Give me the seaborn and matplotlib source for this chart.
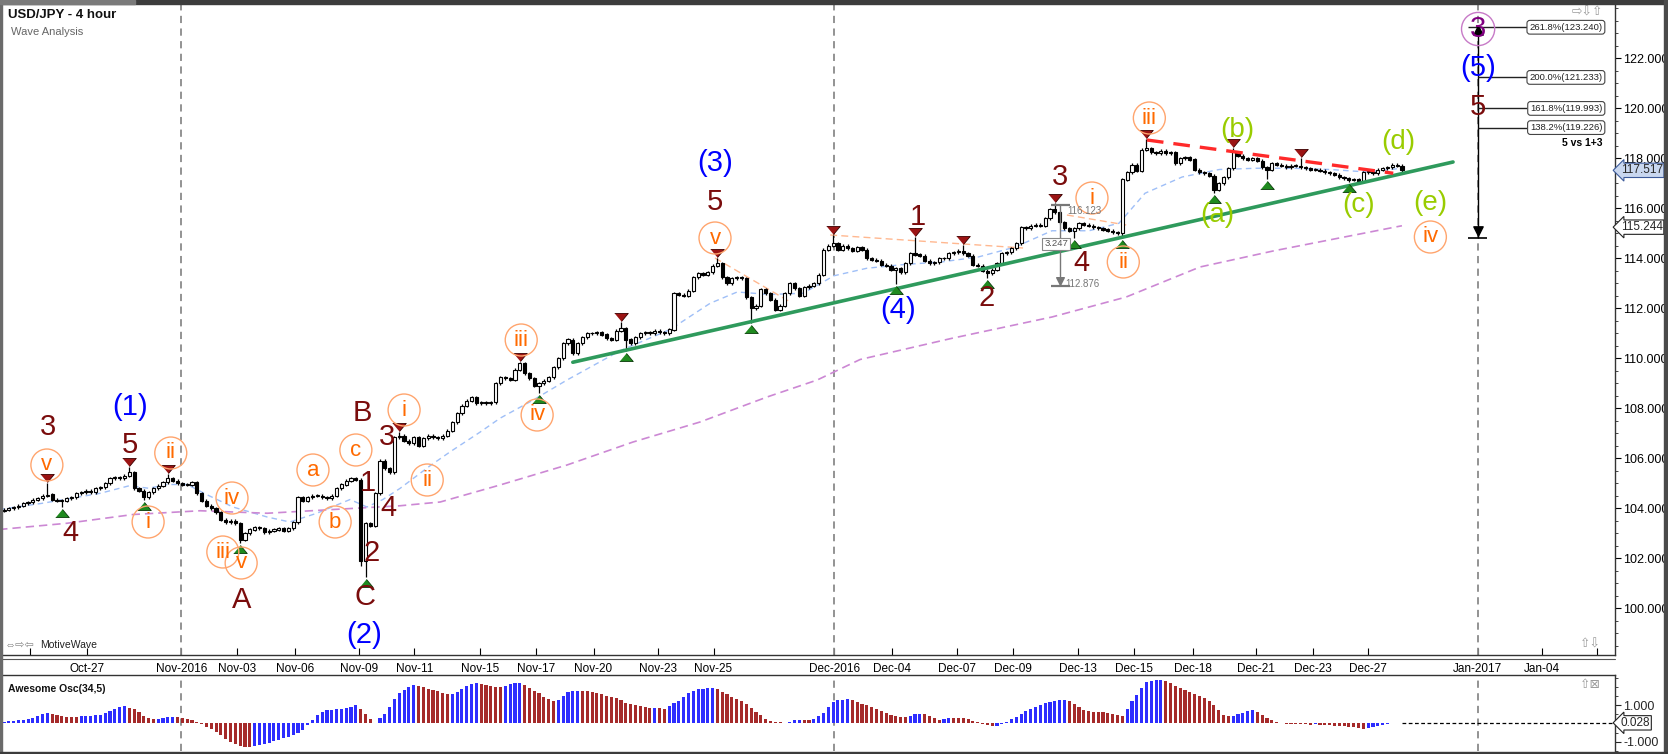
import matplotlib
matplotlib.use("Agg")
import matplotlib.pyplot as plt
import matplotlib.transforms as mtransforms
from matplotlib.patches import Rectangle
from matplotlib.ticker import FormatStrFormatter
import numpy as np
import pandas as pd
import seaborn as sns

# ---- data (4 hour bars, index 0 = first bar on screen) ----
first_open = 103.9
close = [
    103.95, 104.0, 104.05, 104.1, 104.2, 104.25, 104.35, 104.4, 104.5, 104.55,
    104.35, 104.3, 104.3, 104.4, 104.45, 104.6, 104.65, 104.7, 104.65, 104.8,
    104.85, 105.0, 105.2, 105.25, 105.2, 105.3, 105.45, 104.8, 104.7, 104.45,
    104.65, 104.8, 104.9, 105.05, 105.2, 105.1, 105.0, 104.95, 104.95, 105.05,
    104.6, 104.3, 104.1, 104.0, 103.85, 103.55, 103.45, 103.5, 103.4, 102.75,
    103.0, 103.15, 103.25, 103.2, 103.05, 103.1, 103.15, 103.2, 103.1, 103.2,
    103.45, 104.45, 104.3, 104.45, 104.5, 104.5, 104.45, 104.4, 104.5, 104.8,
    104.95, 105.1, 105.2, 105.15, 101.9, 103.4, 103.3, 104.6, 105.9, 105.6,
    105.45, 106.85, 106.9, 106.7, 106.6, 106.85, 106.5, 106.8, 106.9, 106.85,
    106.8, 106.9, 107.1, 107.45, 107.8, 108.1, 108.3, 108.45, 108.2, 108.25,
    108.2, 108.25, 109.0, 109.25, 109.2, 109.15, 109.55, 109.8, 109.4, 109.2,
    108.9, 109.0, 109.1, 109.25, 109.65, 110.0, 110.6, 110.75, 110.2, 110.6,
    110.85, 111.0, 111.0, 111.05, 110.95, 110.8, 110.75, 111.1, 111.2, 110.75,
    110.6, 110.85, 111.0, 111.05, 111.0, 111.1, 111.05, 111.0, 111.15, 112.6,
    112.55, 112.5, 112.7, 113.25, 113.4, 113.35, 113.45, 113.7, 113.8, 113.25,
    113.0, 113.2, 113.25, 113.2, 112.45, 112.0, 112.1, 112.75, 112.6, 112.35,
    111.95, 112.1, 112.6, 113.0, 112.8, 112.5, 112.85, 112.9, 113.0, 113.35,
    114.35, 114.5, 114.6, 114.35, 114.5, 114.4, 114.3, 114.45, 114.35, 114.0,
    113.95, 113.9, 113.75, 113.7, 113.55, 113.6, 113.45, 113.8, 114.2, 114.15,
    114.1, 113.9, 113.8, 113.85, 114.0, 114.0, 114.2, 114.25, 114.3, 114.2,
    114.1, 113.75, 113.7, 113.5, 113.4, 113.55, 113.8, 114.2, 114.25, 114.4,
    114.6, 115.25, 115.2, 115.3, 115.35, 115.3, 115.6, 115.95, 115.85, 115.45,
    115.2, 115.1, 115.2, 115.4, 115.35, 115.3, 115.25, 115.2, 115.15, 115.1,
    115.05, 115.0, 117.15, 117.45, 117.75, 117.5, 118.35, 118.4, 118.25, 118.2,
    118.3, 118.2, 118.25, 117.8, 118.0, 118.05, 117.95, 117.55, 117.45, 117.4,
    117.3, 116.75, 117.0, 117.25, 117.6, 118.25, 118.1, 118.0, 117.95, 118.0,
    117.9, 117.65, 117.55, 117.8, 117.75, 117.7, 117.65, 117.7, 117.7, 117.65,
    117.6, 117.55, 117.55, 117.5, 117.45, 117.4, 117.35, 117.25, 117.2, 117.15,
    117.15, 117.1, 117.45, 117.45, 117.4, 117.55, 117.6, 117.65, 117.75, 117.7, 117.52,
]

# swing highs / lows (bar -> wick extreme), marked with triangles
pivot_high = {9: 105.0, 26: 105.65, 34: 105.37, 82: 107.05, 107: 109.85, 128: 111.45,
              148: 114.0, 172: 114.93, 189: 114.85, 199: 114.53, 218: 116.21,
              237: 118.77, 255: 118.41, 269: 118.01}
pivot_low = {12: 104.05, 29: 104.33, 49: 102.61, 75: 101.25, 111: 108.61, 129: 110.29,
             155: 111.41, 185: 112.97, 204: 113.21, 222: 114.81, 232: 114.81,
             251: 116.61, 262: 117.17, 279: 117.05}
extra_low = {74: 101.7}

# moving averages (sampled along the curves)
ma_fast_bar = [-1, 8, 20, 26, 30, 34, 38, 42, 47.5, 54.6, 59.3, 64.9, 71.8, 75.3, 78.6,
               82.2, 88.4, 92.5, 98.8, 102.9, 109.8, 116.8, 127.8, 138.2, 146.5, 152.1,
               158.9, 165.8, 172.2, 179.0, 186.7, 194.4, 202.1, 209.8, 217.4, 225.1,
               231.3, 236.7, 244.4, 252.1, 259.8, 267.4, 275.1, 282.8, 290]
ma_fast = [103.95, 104.2, 104.6, 104.9, 104.8, 104.95, 104.95, 104.55, 104.05, 103.65,
           103.45, 103.8, 104.35, 104.05, 104.35, 104.8, 105.7, 106.25, 107.05, 107.6,
           108.33, 109.13, 110.3, 111.15, 112.2, 112.65, 112.55, 112.6, 113.3, 113.6,
           113.75, 113.85, 114.05, 114.45, 115.1, 115.1, 115.4, 116.6, 117.25, 117.55,
           117.6, 117.6, 117.55, 117.45, 117.6]
ma_slow_bar = [-1, 13.1, 26.8, 40.7, 54.6, 68.3, 82.2, 90.5, 102.9, 116.8, 130.5, 144.4,
               158.3, 168.7, 177.6, 196.7, 217.4, 232.8, 248.1, 263.5, 290]
ma_slow = [103.15, 103.4, 103.75, 103.9, 103.8, 103.95, 104.1, 104.25, 104.93, 105.73,
           106.65, 107.45, 108.45, 109.13, 109.95, 110.8, 111.65, 112.45, 113.65, 114.3, 115.3]

# Awesome Oscillator (34,5)
ao = [
    0.09, 0.12, 0.15, 0.18, 0.2, 0.24, 0.27, 0.4, 0.5, 0.55,
    0.51, 0.45, 0.40, 0.36, 0.33, 0.33, 0.38, 0.40, 0.42, 0.45,
    0.48, 0.55, 0.65, 0.78, 0.87, 0.93, 0.86, 0.76, 0.6, 0.42,
    0.3, 0.22, 0.23, 0.27, 0.33, 0.36, 0.32, 0.27, 0.22, 0.18,
    0.07, -0.02, -0.18, -0.33, -0.47, -0.66, -0.85, -1.02, -1.15, -1.22,
    -1.27, -1.28, -1.25, -1.2, -1.13, -1.05, -0.97, -0.89, -0.82, -0.77,
    -0.65, -0.55, -0.36, -0.08, 0.2, 0.45, 0.6, 0.73, 0.75, 0.76,
    0.78, 0.82, 0.91, 1.02, 0.8, 0.5, 0.22, 0.04, 0.3, 0.5,
    0.87, 1.33, 1.64, 1.82, 1.96, 2.09, 2.05, 1.98, 1.89, 1.8,
    1.74, 1.67, 1.6, 1.62, 1.71, 1.85, 2.03, 2.13, 2.18, 2.15,
    2.1, 2.06, 2.0, 1.96, 2.04, 2.13, 2.18, 2.22, 2.07, 1.92,
    1.75, 1.63, 1.45, 1.31, 1.22, 1.3, 1.52, 1.71, 1.78, 1.79,
    1.77, 1.74, 1.69, 1.63, 1.58, 1.51, 1.44, 1.36, 1.27, 1.12,
    1.05, 0.99, 0.93, 0.87, 0.82, 0.84, 0.82, 0.8, 0.95, 1.12,
    1.2, 1.45, 1.67, 1.78, 1.85, 1.89, 1.92, 1.95, 1.87, 1.73,
    1.6, 1.45, 1.33, 1.2, 1.05, 0.85, 0.6, 0.45, 0.22, 0.13,
    0.08, 0.05, 0.03, 0.1, 0.16, 0.2, 0.19, 0.17, 0.25, 0.4,
    0.55, 0.87, 1.15, 1.25, 1.27, 1.31, 1.25, 1.15, 1.06, 0.98,
    0.9, 0.76, 0.68, 0.55, 0.45, 0.4, 0.37, 0.35, 0.42, 0.49,
    0.51, 0.5, 0.42, 0.3, 0.2, 0.25, 0.31, 0.3, 0.29, 0.27,
    0.22, 0.15, 0.05, -0.05, -0.11, -0.15, -0.12, -0.06, 0.06, 0.22,
    0.35, 0.5, 0.65, 0.8, 0.9, 1.0, 1.13, 1.18, 1.24, 1.27,
    1.29, 1.2, 1.05, 0.88, 0.75, 0.67, 0.64, 0.62, 0.6, 0.55,
    0.51, 0.46, 0.38, 0.8, 1.2, 1.55, 1.95, 2.25, 2.33, 2.36,
    2.37, 2.33, 2.2, 2.06, 1.95, 1.82, 1.7, 1.6, 1.5, 1.36,
    1.2, 1.0, 0.75, 0.45, 0.4, 0.42, 0.5, 0.58, 0.68, 0.73,
    0.64, 0.45, 0.3, 0.17, 0.08, 0.02, -0.02, -0.04, -0.05, -0.05,
    -0.06, -0.07, -0.06, -0.08, -0.09, -0.11, -0.13, -0.15, -0.17, -0.19,
    -0.22, -0.26, -0.29, -0.27, -0.22, -0.16, -0.1, -0.04, 0.0, 0.02, 0.028,
]

# date axis (bar positions of the labels)
tick_bars = [5.5, 17.2, 36.8, 48.4, 60.3, 73.7, 85.1, 98.7, 110.3, 122.3, 135.7, 147.2,
             172.2, 184.3, 197.6, 209.3, 222.8, 234.5, 246.6, 259.7, 271.5, 283.0,
             305.7, 319.0, 330.5]
tick_labels = ["", "Oct-27", "Nov-2016", "Nov-03", "Nov-06", "Nov-09", "Nov-11", "Nov-15",
               "Nov-17", "Nov-20", "Nov-23", "Nov-25", "Dec-2016", "Dec-04", "Dec-07",
               "Dec-09", "Dec-13", "Dec-15", "Dec-18", "Dec-21", "Dec-23", "Dec-27",
               "Jan-2017", "Jan-04", ""]
month_lines = ["Nov-2016", "Dec-2016", "Jan-2017"]

# trend lines
support = ([118.0, 300.6], [109.84, 117.85])
resistance = ([237.1, 288.2], [118.73, 117.4])
light_lines = [([147.5, 163.1], [114.01, 112.25]),
               ([171.4, 211.4], [114.93, 114.41]),
               ([220.5, 232.8], [115.73, 115.33])]

# fibonacci projection
fib_bar = 305.8
fib_pct = ["261.8%", "200.0%", "161.8%", "138.2%"]
fib_lvl = [123.240, 121.233, 119.993, 119.226]
fib_low = 114.81
measure = (219.1, 116.123, 112.876, "3.247")

# wave labels (text, bar, price)
maroon_labels = [("3", 9.1, 107.25), ("4", 13.7, 103.01), ("5", 26.1, 106.53),
                 ("A", 49.2, 100.33), ("B", 74.3, 107.81), ("1", 75.5, 105.01),
                 ("2", 76.3, 102.21), ("C", 74.9, 100.45), ("3", 79.5, 106.85),
                 ("4", 79.7, 104.01), ("5", 147.5, 116.25), ("1", 189.6, 115.65),
                 ("2", 203.9, 112.41), ("3", 219.1, 117.25), ("4", 223.5, 113.8),
                 ("5", 305.8, 120.05)]
blue_labels = [("(1)", 26.1, 108.05), ("(2)", 74.7, 98.93), ("(3)", 147.5, 117.81),
               ("(4)", 185.5, 111.93), ("(5)", 305.8, 121.61)]
orange_labels = [("v", 8.9, 105.73), ("ii", 34.6, 106.21), ("i", 29.9, 103.45),
                 ("iv", 47.3, 104.41), ("iii", 45.4, 102.25), ("v", 49.2, 101.81),
                 ("a", 64.1, 105.53), ("b", 68.7, 103.45), ("c", 73.0, 106.33),
                 ("i", 83.0, 107.93), ("ii", 87.8, 105.13), ("iii", 107.3, 110.73),
                 ("iv", 110.6, 107.73), ("v", 147.5, 114.81), ("i", 225.7, 116.41),
                 ("ii", 232.2, 113.85), ("iii", 237.6, 119.61), ("iv", 295.9, 114.85)]
green_labels = [("(a)", 251.7, 115.73), ("(b)", 255.8, 119.13), ("(c)", 280.9, 116.13),
                ("(d)", 289.2, 118.65), ("(e)", 295.9, 116.21)]
purple_label = ("3", 305.8, 123.17)

last_price = 117.517
ma_tag = 115.244
ao_last = 0.028

# ---- style ----
sns.set_theme(style="white")
plt.rcParams["font.family"] = ["Liberation Sans", "DejaVu Sans"]

MAROON = "#7a0c0c"
ORANGE = "#ff6a00"
LIME = "#99cc00"
W, H = 1668, 754

fig = plt.figure(figsize=(W / 100, H / 100), dpi=100)
fig.patch.set_facecolor("white")


def fx(px):
    return px / W


def fy(py):
    return 1 - py / H


ax = fig.add_axes([fx(2), fy(655), fx(1615) - fx(2), (655 - 3) / H])
ax_ao = fig.add_axes([fx(2), fy(751), fx(1615) - fx(2), (751 - 675) / H])
xlim = (-0.41, 334.2)

# ---- candles ----
bars = np.arange(len(close))
closes = np.array(close)
opens = np.array([first_open] + close[:-1])
hi = np.maximum(opens, closes) + 0.06
lo = np.minimum(opens, closes) - 0.06
for b, v in pivot_high.items():
    hi[b] = v
for b, v in pivot_low.items():
    lo[b] = v
for b, v in extra_low.items():
    lo[b] = v
up = closes >= opens
body = np.maximum(np.abs(closes - opens), 0.03)
ax.vlines(bars, lo, hi, color="black", lw=0.9, zorder=3)
ax.bar(bars[up], body[up], bottom=opens[up], width=0.66, color="white",
       edgecolor="black", linewidth=0.8, zorder=4)
ax.bar(bars[~up], body[~up], bottom=closes[~up], width=0.66, color="black",
       edgecolor="black", linewidth=0.8, zorder=4)

# moving averages
sns.lineplot(x=ma_fast_bar, y=ma_fast, ax=ax, color="#9fbff7", lw=1.0,
             linestyle=(0, (4, 3)), zorder=2)
sns.lineplot(x=ma_slow_bar, y=ma_slow, ax=ax, color="#cc88d4", lw=1.2,
             linestyle=(0, (5, 3)), zorder=2)

# trend lines
sns.lineplot(x=support[0], y=support[1], ax=ax, color="#2e9a5c", lw=2.6, zorder=5)
sns.lineplot(x=resistance[0], y=resistance[1], ax=ax, color="#ff2a2a", lw=2.4,
             linestyle=(0, (5, 3)), zorder=5)
for xs, ys in light_lines:
    ax.plot(xs, ys, color="#ffb890", lw=1.0, linestyle=(0, (5, 3)), zorder=2)

# pivot triangles
tri_down = [(-1, 0.6), (1, 0.6), (0, -0.6)]
tri_up = [(-1, -0.6), (1, -0.6), (0, 0.6)]
hb = list(pivot_high.keys())
lb = list(pivot_low.keys())
ax.scatter(hb, hi[hb] + 0.22, marker=tri_down, s=95, color="#9b1414",
           edgecolors="#3a0000", linewidths=0.6, zorder=6)
ax.scatter(lb, lo[lb] - 0.22, marker=tri_up, s=95, color="#1f8a1f",
           edgecolors="#0a3a0a", linewidths=0.6, zorder=6)

# wave labels
for t, b, p in maroon_labels:
    ax.text(b, p, t, color=MAROON, fontsize=21, ha="center", va="center", zorder=7)
for t, b, p in blue_labels:
    ax.text(b, p, t, color="#0000ff", fontsize=21, ha="center", va="center", zorder=7)
for t, b, p in green_labels:
    ax.text(b, p, t, color=LIME, fontsize=20, ha="center", va="center", zorder=7)
ob = [o[1] for o in orange_labels]
op = [o[2] for o in orange_labels]
ax.scatter(ob, op, s=530, facecolors="none", edgecolors="#ffa56e", linewidths=1.0, zorder=6)
for t, b, p in orange_labels:
    ax.text(b, p, t, color=ORANGE, fontsize=16, ha="center", va="center", zorder=7)

# month separators
for lab in month_lines:
    xb = tick_bars[tick_labels.index(lab)]
    for a in (ax, ax_ao):
        a.axvline(xb, color="#8a8a8a", lw=1.3, linestyle=(0, (4, 3)), zorder=1)

# fibonacci tool
ax.vlines(fib_bar, fib_low, fib_lvl[0], color="black", lw=1.0, zorder=5)
ax.hlines(fib_low, fib_bar - 2.1, fib_bar + 1.9, color="black", lw=1.2, zorder=5)
ax.scatter([fib_bar], [fib_lvl[0] - 0.12], marker="^", s=45, color="black", zorder=6)
ax.scatter([fib_bar], [fib_low + 0.3], marker="v", s=45, color="black", zorder=6)
for i, (pct, lvl) in enumerate(zip(fib_pct, fib_lvl)):
    x0 = fib_bar - 2.1 if i == 0 else fib_bar
    ax.hlines(lvl, x0, 316.0, color="#222222", lw=1.0, zorder=5)
    ax.text(331.6, lvl, f"{pct}({lvl:.3f})", fontsize=6.8, ha="right", va="center",
            color="#222222", zorder=7,
            bbox=dict(boxstyle="round,pad=0.25,rounding_size=0.3", fc="white",
                      ec="#444444", lw=0.8))
ax.text(331.6, 118.61, "5 vs 1+3", fontsize=7.5, fontweight="bold", ha="right",
        va="center", color="black", zorder=7)
ax.scatter([purple_label[1]], [purple_label[2]], s=570, facecolors="none",
           edgecolors="#c77ac7", linewidths=1.0, zorder=6)
ax.text(purple_label[1], purple_label[2], purple_label[0], color="#800080", fontsize=21,
        ha="center", va="center", zorder=7)

# measure tool
mb, mtop, mbot, mtxt = measure
ax.vlines(mb, mbot, mtop, color="#777777", lw=1.0, zorder=5)
ax.hlines([mtop, mbot], mb - 2.0, mb + 2.0, color="#777777", lw=1.6, zorder=5)
ax.scatter([mb], [mbot + 0.2], marker="v", s=30, color="#777777", zorder=5)
ax.text(mb + 1.4, mtop - 0.25, f"{mtop:.3f}", fontsize=7, color="#777777",
        ha="left", va="center", zorder=7)
ax.text(mb + 1.0, mbot + 0.1, f"{mbot:.3f}", fontsize=7, color="#777777",
        ha="left", va="center", zorder=7)
ax.text(mb - 3.3, 114.57, mtxt, fontsize=6.8, color="#555555", ha="left", va="center",
        zorder=6, bbox=dict(boxstyle="square,pad=0.2", fc="white", ec="#888888", lw=0.8))

# axes styling (main)
ax.set_xlim(*xlim)
ax.set_ylim(98.13, 124.21)
ax.yaxis.tick_right()
ax.set_yticks(np.arange(100, 123, 2))
ax.set_yticks(np.arange(98.5, 124.1, 0.5), minor=True)
ax.yaxis.set_major_formatter(FormatStrFormatter("%.3f"))
ax.tick_params(axis="y", which="major", direction="out", length=4, width=0.8,
               labelsize=9, pad=2, right=True, left=False, colors="black")
ax.tick_params(axis="y", which="minor", direction="out", length=2, width=0.6,
               right=True, left=False)
ax.set_xticks(tick_bars)
ax.set_xticklabels(tick_labels)
ax.tick_params(axis="x", direction="in", length=5, width=0.8, labelsize=8.5, pad=6,
               bottom=True, colors="black")
for s in ("left", "top"):
    ax.spines[s].set_visible(False)
for s in ("right", "bottom"):
    ax.spines[s].set_color("#333333")
    ax.spines[s].set_linewidth(1.0)
ax.set_xlabel("")
ax.set_ylabel("")
ax.grid(False)

blend = mtransforms.blended_transform_factory(ax.transAxes, ax.transData)
ax.text(1.0035, last_price, f"{last_price:.3f}", transform=blend, fontsize=8.5,
        ha="left", va="center", clip_on=False, zorder=10,
        bbox=dict(boxstyle="larrow,pad=0.1", fc="#c9d7ef", ec="#3c5a9a", lw=0.8))
ax.text(1.0035, ma_tag, f"{ma_tag:.3f}", transform=blend, fontsize=8.5,
        ha="left", va="center", clip_on=False, zorder=10,
        bbox=dict(boxstyle="larrow,pad=0.1", fc="white", ec="#222222", lw=0.8))

# ---- Awesome oscillator ----
ao_dir = ["up" if i == 0 or ao[i] > ao[i - 1] else "down" for i in range(len(ao))]
ao_df = pd.DataFrame({"bar": bars, "ao": ao, "dir": ao_dir})
sns.barplot(data=ao_df, x="bar", y="ao", hue="dir", native_scale=True, dodge=False,
            palette={"up": "#2d2dff", "down": "#a52a2a"}, saturation=1, width=0.65,
            errorbar=None, legend=False, ax=ax_ao, linewidth=0)
ax_ao.hlines(ao_last, len(ao) - 1, xlim[1], color="black", lw=0.9,
             linestyle=(0, (3, 2)), zorder=3)
ax_ao.set_xlim(*xlim)
ax_ao.set_ylim(-1.51, 2.64)
ax_ao.set_xticks([])
ax_ao.yaxis.tick_right()
ax_ao.set_yticks([-1, 1])
ax_ao.set_yticks(np.arange(-1.5, 2.6, 0.5), minor=True)
ax_ao.yaxis.set_major_formatter(FormatStrFormatter("%.3f"))
ax_ao.tick_params(axis="y", which="major", direction="out", length=4, width=0.8,
                  labelsize=9, pad=2, right=True, left=False)
ax_ao.tick_params(axis="y", which="minor", direction="out", length=2, width=0.6,
                  right=True, left=False)
for s in ("left", "bottom"):
    ax_ao.spines[s].set_visible(False)
for s in ("right", "top"):
    ax_ao.spines[s].set_color("#333333")
    ax_ao.spines[s].set_linewidth(1.0)
ax_ao.set_xlabel("")
ax_ao.set_ylabel("")
ax_ao.grid(False)
blend_ao = mtransforms.blended_transform_factory(ax_ao.transAxes, ax_ao.transData)
ax_ao.text(1.0035, ao_last, f"{ao_last:.3f}", transform=blend_ao, fontsize=8.5,
           ha="left", va="center", clip_on=False, zorder=10,
           bbox=dict(boxstyle="larrow,pad=0.1", fc="white", ec="#222222", lw=0.8))

# ---- panel texts and frame ----
fig.text(fx(8), fy(15), "USD/JPY - 4 hour", fontsize=9.5, fontweight="bold",
         ha="left", va="center", color="#111111")
fig.text(fx(11), fy(32), "Wave Analysis", fontsize=8, ha="left", va="center",
         color="#666666")
fig.text(fx(5), fy(645), "\u21d4\u21e8\u21e6", fontsize=8, ha="left", va="center",
         color="#888888")
fig.text(fx(40), fy(645), "MotiveWave", fontsize=7.5, ha="left", va="center",
         color="#222222")
fig.text(fx(8), fy(689), "Awesome Osc(34,5)", fontsize=7.5, fontweight="bold",
         ha="left", va="center", color="#111111")
fig.text(fx(1572), fy(13), "\u21e8\u21e9\u21e7", fontsize=9, ha="left", va="center",
         color="#9a9a9a")
fig.text(fx(1580), fy(645), "\u21e7\u21e9", fontsize=9, ha="left", va="center",
         color="#9a9a9a")
fig.text(fx(1580), fy(685), "\u21e7\u22a0", fontsize=9, ha="left", va="center",
         color="#9a9a9a")

fig.add_artist(Rectangle((0, fy(4)), 1, 4 / H, transform=fig.transFigure,
                         color="#3c3c3c", zorder=20))
fig.add_artist(Rectangle((0, fy(4)), fx(135), 4 / H, transform=fig.transFigure,
                         color="#7a7a7a", zorder=21))
fig.add_artist(Rectangle((0, 0), fx(2), 1, transform=fig.transFigure,
                         color="#6a6a6a", zorder=20))
fig.add_artist(Rectangle((fx(1664), 0), fx(4), 1, transform=fig.transFigure,
                         color="#4a4a4a", zorder=20))
fig.add_artist(Rectangle((0, 0), 1, 2 / H, transform=fig.transFigure,
                         color="#3c3c3c", zorder=20))
fig.add_artist(plt.Line2D([fx(2), fx(1615)], [fy(659), fy(659)], transform=fig.transFigure,
                          color="#555555", lw=0.8))

fig.savefig("out.png", dpi=100, facecolor="white")
